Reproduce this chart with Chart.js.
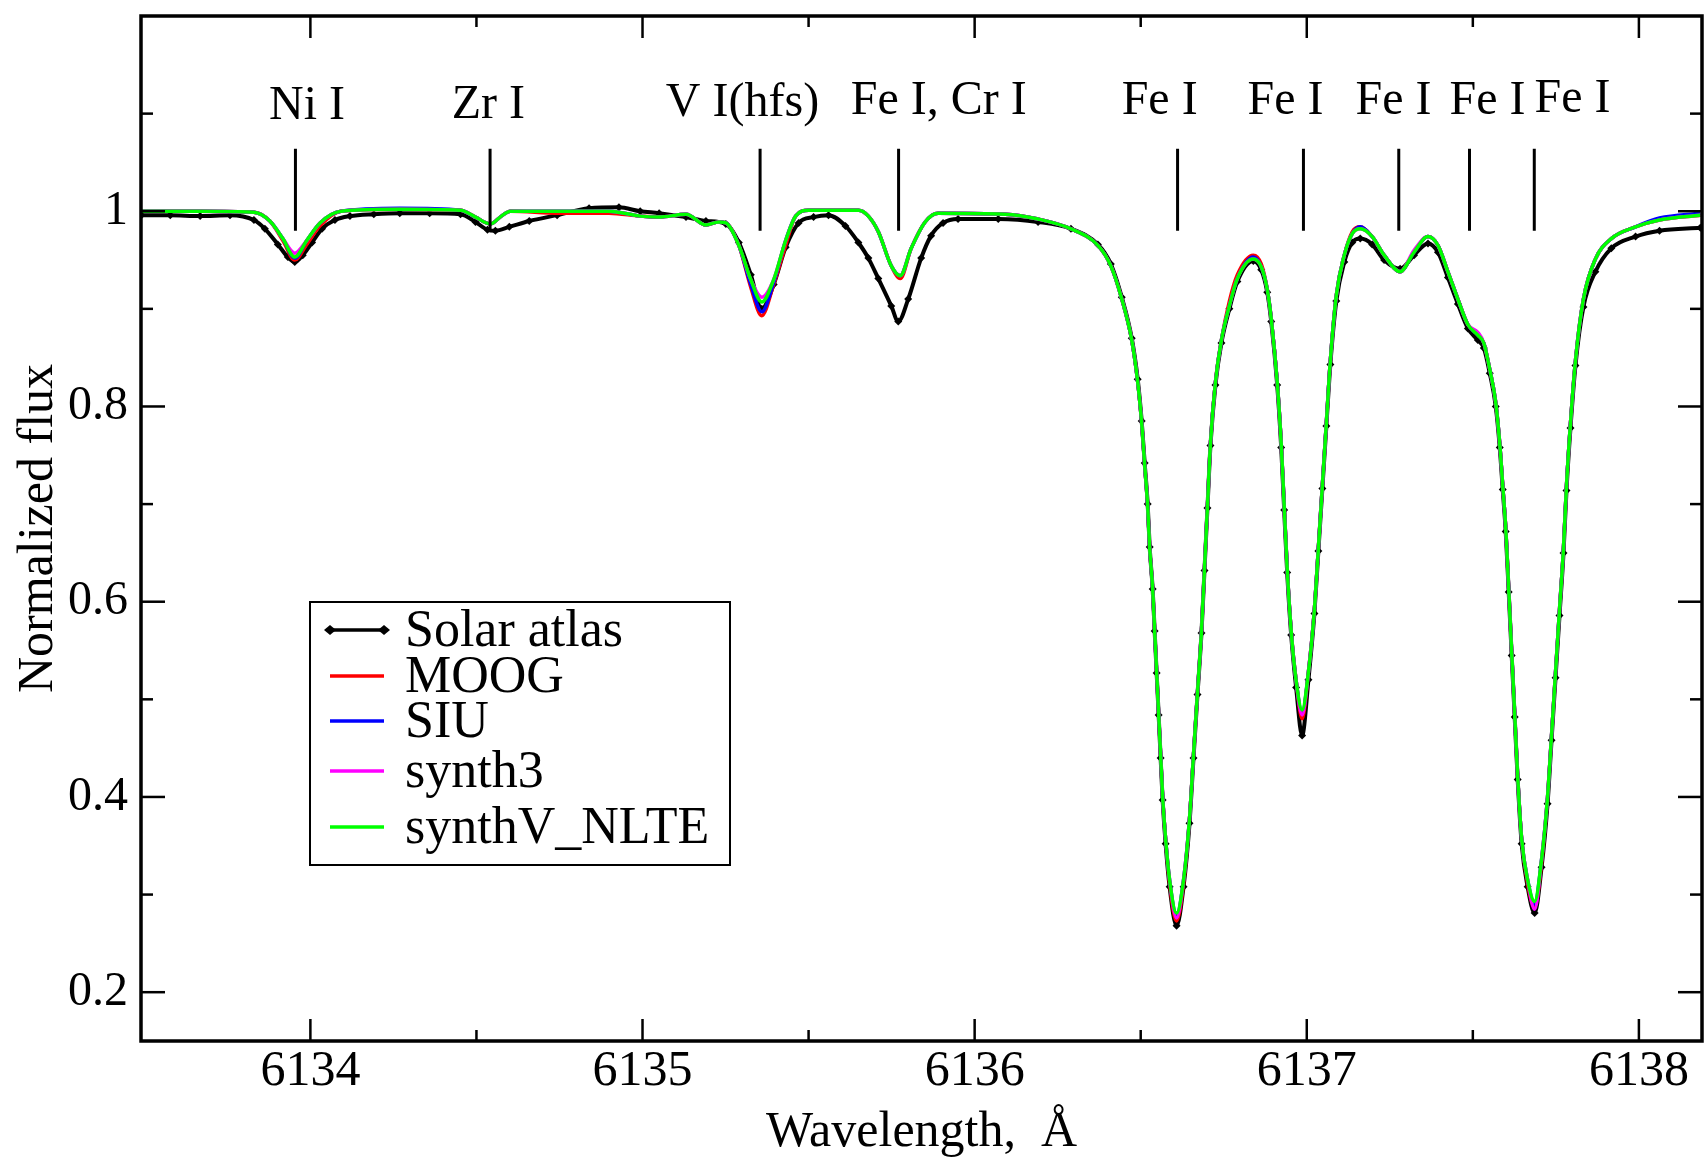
<!DOCTYPE html>
<html><head><meta charset="utf-8">
<script src="https://cdn.jsdelivr.net/npm/chart.js@4.4.0/dist/chart.umd.min.js"></script>
<style>html,body{margin:0;padding:0;background:#fff;}#wrap{width:1706px;height:1158px;position:relative;}</style>
</head><body><div id="wrap"><canvas id="c" width="1706" height="1158"></canvas></div>
<script>
// ---------- data ----------
const solarWave = [
6133.491,6133.578,6133.668,6133.758,6133.830,6133.863,6133.902,6133.932,6133.953,6133.977,
6134.005,6134.035,6134.074,6134.119,6134.191,6134.269,6134.359,6134.452,6134.497,6134.533,
6134.557,6134.599,6134.659,6134.743,6134.839,6134.929,6134.993,6135.050,6135.131,6135.191,
6135.251,6135.290,6135.326,6135.359,6135.395,6135.431,6135.470,6135.515,6135.560,6135.611,
6135.650,6135.680,6135.710,6135.749,6135.770,6135.800,6135.839,6135.869,6135.905,6135.950,
6136.071,6136.191,6136.290,6136.371,6136.410,6136.443,6136.473,6136.491,6136.503,6136.512,
6136.521,6136.527,6136.536,6136.542,6136.548,6136.554,6136.560,6136.566,6136.575,6136.587,
6136.608,6136.629,6136.647,6136.659,6136.671,6136.683,6136.692,6136.701,6136.710,6136.725,
6136.743,6136.767,6136.791,6136.839,6136.863,6136.881,6136.893,6136.911,6136.923,6136.932,
6136.941,6136.953,6136.968,6136.986,6137.005,6137.023,6137.035,6137.047,6137.059,6137.071,
6137.089,6137.113,6137.137,6137.161,6137.197,6137.233,6137.281,6137.323,6137.365,6137.395,
6137.425,6137.455,6137.485,6137.515,6137.533,6137.551,6137.569,6137.581,6137.590,6137.599,
6137.608,6137.617,6137.626,6137.635,6137.647,6137.665,6137.686,6137.707,6137.725,6137.737,
6137.749,6137.761,6137.773,6137.782,6137.794,6137.809,6137.833,6137.869,6137.917,6137.990,
6138.062,6138.185];
const solarFlux = [
0.996,0.996,0.995,0.996,0.991,0.982,0.966,0.953,0.948,0.955,
0.968,0.982,0.991,0.995,0.997,0.998,0.998,0.997,0.989,0.981,
0.980,0.984,0.990,0.996,1.003,1.004,1.000,0.998,0.994,0.990,
0.987,0.968,0.935,0.900,0.925,0.963,0.988,0.994,0.996,0.985,
0.968,0.952,0.931,0.903,0.887,0.910,0.952,0.975,0.988,0.992,
0.992,0.989,0.982,0.966,0.946,0.912,0.870,0.828,0.785,0.742,
0.700,0.656,0.613,0.570,0.527,0.484,0.440,0.397,0.352,0.308,
0.268,0.308,0.373,0.440,0.505,0.568,0.632,0.696,0.760,0.822,
0.865,0.900,0.928,0.949,0.940,0.917,0.887,0.822,0.758,0.694,
0.630,0.566,0.512,0.463,0.520,0.588,0.652,0.716,0.780,0.843,
0.908,0.948,0.968,0.972,0.966,0.950,0.941,0.955,0.967,0.958,
0.932,0.905,0.880,0.868,0.860,0.834,0.800,0.758,0.715,0.672,
0.610,0.545,0.482,0.418,0.352,0.308,0.281,0.328,0.393,0.458,
0.522,0.586,0.650,0.714,0.778,0.842,0.902,0.938,0.962,0.974,
0.980,0.983];

const synthWave = [
6133.491,6133.668,6133.830,6133.878,6133.917,6133.953,6133.989,6134.029,6134.092,6134.269,
6134.452,6134.497,6134.542,6134.575,6134.602,6134.749,6134.899,6134.993,6135.050,6135.131,
6135.191,6135.230,6135.251,6135.290,6135.326,6135.359,6135.395,6135.431,6135.461,6135.500,
6135.650,6135.680,6135.710,6135.749,6135.776,6135.809,6135.851,6135.890,6136.092,6136.191,
6136.290,6136.371,6136.410,6136.443,6136.473,6136.491,6136.503,6136.512,6136.521,6136.527,
6136.536,6136.542,6136.548,6136.554,6136.560,6136.566,6136.575,6136.587,6136.608,6136.629,
6136.647,6136.659,6136.671,6136.683,6136.692,6136.701,6136.710,6136.725,6136.743,6136.767,
6136.791,6136.839,6136.863,6136.881,6136.893,6136.911,6136.923,6136.932,6136.941,6136.953,
6136.968,6136.986,6137.005,6137.023,6137.035,6137.047,6137.059,6137.071,6137.089,6137.113,
6137.137,6137.161,6137.197,6137.233,6137.281,6137.323,6137.365,6137.395,6137.425,6137.455,
6137.485,6137.515,6137.533,6137.551,6137.569,6137.581,6137.590,6137.599,6137.608,6137.617,
6137.626,6137.635,6137.647,6137.665,6137.686,6137.707,6137.725,6137.737,6137.749,6137.761,
6137.773,6137.782,6137.794,6137.809,6137.833,6137.869,6137.917,6137.990,6138.062,6138.185];

const moogFlux = [
1.000,1.000,0.999,0.990,0.970,0.950,0.966,0.985,1.000,1.002,
1.001,0.994,0.987,0.995,1.000,0.998,0.998,0.995,0.994,0.997,
0.986,0.989,0.988,0.965,0.922,0.893,0.925,0.965,0.995,1.001,
1.001,0.995,0.979,0.944,0.931,0.962,0.989,0.998,0.997,0.992,
0.982,0.965,0.944,0.910,0.868,0.825,0.783,0.740,0.698,0.655,
0.613,0.570,0.528,0.485,0.443,0.400,0.357,0.311,0.273,0.311,
0.378,0.443,0.507,0.570,0.634,0.698,0.762,0.825,0.868,0.908,
0.935,0.955,0.946,0.920,0.890,0.825,0.762,0.698,0.634,0.570,
0.519,0.480,0.528,0.592,0.655,0.719,0.783,0.847,0.914,0.955,
0.979,0.984,0.974,0.955,0.938,0.958,0.974,0.965,0.938,0.910,
0.884,0.873,0.865,0.838,0.804,0.762,0.719,0.676,0.613,0.548,
0.485,0.421,0.357,0.311,0.287,0.332,0.400,0.463,0.528,0.592,
0.655,0.719,0.783,0.847,0.910,0.951,0.972,0.984,0.991,0.996];

const siuFlux = [
1.000,1.000,0.999,0.990,0.972,0.952,0.970,0.988,1.000,1.003,
1.001,0.994,0.987,0.995,1.000,1.000,1.000,0.995,0.994,0.997,
0.986,0.989,0.988,0.965,0.925,0.897,0.927,0.970,0.995,1.001,
1.001,0.995,0.979,0.944,0.934,0.962,0.989,0.998,0.997,0.992,
0.982,0.965,0.944,0.910,0.868,0.825,0.783,0.740,0.698,0.655,
0.613,0.570,0.528,0.485,0.443,0.400,0.357,0.315,0.279,0.315,
0.378,0.443,0.507,0.570,0.634,0.698,0.762,0.825,0.868,0.903,
0.931,0.953,0.943,0.920,0.890,0.825,0.762,0.698,0.634,0.570,
0.519,0.486,0.528,0.592,0.655,0.719,0.783,0.847,0.914,0.955,
0.977,0.984,0.974,0.955,0.938,0.958,0.974,0.965,0.938,0.910,
0.884,0.873,0.865,0.838,0.804,0.762,0.719,0.676,0.613,0.548,
0.485,0.421,0.357,0.315,0.290,0.336,0.400,0.463,0.528,0.592,
0.655,0.719,0.783,0.847,0.910,0.951,0.972,0.984,0.993,0.998];

const synth3Flux = [
1.000,1.000,0.999,0.990,0.972,0.957,0.970,0.988,1.000,1.002,
1.001,0.994,0.987,0.995,1.000,1.000,1.000,0.995,0.994,0.997,
0.986,0.989,0.988,0.965,0.930,0.912,0.930,0.970,0.995,1.001,
1.001,0.995,0.979,0.944,0.934,0.962,0.989,0.998,0.997,0.992,
0.982,0.965,0.944,0.910,0.868,0.825,0.783,0.740,0.698,0.655,
0.613,0.570,0.528,0.485,0.443,0.400,0.357,0.315,0.276,0.315,
0.378,0.443,0.507,0.570,0.634,0.698,0.762,0.825,0.868,0.903,
0.931,0.951,0.943,0.920,0.890,0.825,0.762,0.698,0.634,0.570,
0.519,0.484,0.528,0.592,0.655,0.719,0.783,0.847,0.914,0.955,
0.977,0.982,0.974,0.955,0.938,0.960,0.974,0.965,0.938,0.910,
0.884,0.876,0.865,0.838,0.804,0.762,0.719,0.676,0.613,0.548,
0.485,0.421,0.357,0.315,0.285,0.336,0.400,0.463,0.528,0.592,
0.655,0.719,0.783,0.847,0.910,0.951,0.972,0.984,0.991,0.996];

const synthVFlux = [
1.000,1.000,0.999,0.990,0.972,0.953,0.970,0.988,1.000,1.002,
1.001,0.994,0.987,0.995,1.000,1.000,1.000,0.995,0.994,0.997,
0.986,0.989,0.988,0.965,0.930,0.907,0.930,0.970,0.995,1.001,
1.001,0.995,0.979,0.944,0.934,0.962,0.989,0.998,0.997,0.992,
0.982,0.965,0.944,0.910,0.868,0.825,0.783,0.740,0.698,0.655,
0.613,0.570,0.528,0.485,0.443,0.400,0.357,0.315,0.281,0.315,
0.378,0.443,0.507,0.570,0.634,0.698,0.762,0.825,0.868,0.903,
0.931,0.951,0.943,0.920,0.890,0.825,0.762,0.698,0.634,0.570,
0.519,0.489,0.528,0.592,0.655,0.719,0.783,0.847,0.914,0.955,
0.977,0.982,0.974,0.955,0.938,0.958,0.974,0.965,0.938,0.910,
0.884,0.873,0.865,0.838,0.804,0.762,0.719,0.676,0.613,0.548,
0.485,0.421,0.357,0.315,0.293,0.336,0.400,0.463,0.528,0.592,
0.655,0.719,0.783,0.847,0.910,0.951,0.972,0.984,0.991,0.996];

const seriesNames = ['Solar atlas','MOOG','SIU','synth3','synthV_NLTE'];

const xTickValues = [6134, 6135, 6136, 6137, 6138];
const xMinorTicks = [6134.5, 6135.5, 6136.5, 6137.5];
const yTickValues = [0.2, 0.4, 0.6, 0.8, 1.0];
const yMinorTicks = [0.3, 0.5, 0.7, 0.9, 1.1];

const lineIds   = ['Ni I','Zr I','V I(hfs)','Fe I, Cr I','Fe I','Fe I','Fe I','Fe I','Fe I'];
const lineWave  = [6133.955,6134.541,6135.354,6135.771,6136.611,6136.990,6137.277,6137.490,6137.685];
const labelWave = [6133.990,6134.536,6135.301,6135.892,6136.557,6136.936,6137.261,6137.544,6137.800];
const labelFlux = [1.094,1.0955,1.098,1.100,1.100,1.100,1.100,1.100,1.102];
const markTop = 1.064, markBottom = 0.980;

// ---------- chart ----------
const FONT = '"Liberation Serif", "Times New Roman", serif';
const toXY = (w, f) => w.map((v, i) => ({x: v, y: f[i]}));

const decor = {
  id: 'decor',
  afterDatasetsDraw(chart) {
    const {ctx, chartArea: a, scales: {x, y}} = chart;
    ctx.save();
    ctx.strokeStyle = '#000';
    ctx.lineCap = 'butt';
    const seg = (x1, y1, x2, y2) => { ctx.beginPath(); ctx.moveTo(x1, y1); ctx.lineTo(x2, y2); ctx.stroke(); };
    // ticks (inward, mirrored)
    ctx.lineWidth = 2.5;
    xTickValues.forEach(v => { const p = x.getPixelForValue(v); seg(p, a.bottom, p, a.bottom - 22); seg(p, a.top, p, a.top + 22); });
    xMinorTicks.forEach(v => { const p = x.getPixelForValue(v); seg(p, a.bottom, p, a.bottom - 11); seg(p, a.top, p, a.top + 11); });
    yTickValues.forEach(v => { const p = y.getPixelForValue(v); seg(a.left, p, a.left + 24, p); seg(a.right, p, a.right - 24, p); });
    yMinorTicks.forEach(v => { const p = y.getPixelForValue(v); seg(a.left, p, a.left + 12, p); seg(a.right, p, a.right - 12, p); });
    // frame
    ctx.lineWidth = 3.5;
    ctx.strokeRect(a.left, a.top, a.right - a.left, a.bottom - a.top);
    // line identifications
    ctx.lineWidth = 3;
    lineWave.forEach(w => { const p = x.getPixelForValue(w); seg(p, y.getPixelForValue(markTop), p, y.getPixelForValue(markBottom)); });
    ctx.fillStyle = '#000';
    ctx.font = '48px ' + FONT;
    ctx.textAlign = 'center';
    ctx.textBaseline = 'alphabetic';
    lineIds.forEach((t, i) => ctx.fillText(t, x.getPixelForValue(labelWave[i]), y.getPixelForValue(labelFlux[i])));
    // legend
    const bx = 310, by = 602, bw = 420, bh = 263;
    ctx.fillStyle = '#fff';
    ctx.fillRect(bx, by, bw, bh);
    ctx.lineWidth = 2;
    ctx.strokeStyle = '#000';
    ctx.strokeRect(bx, by, bw, bh);
    const rows = [630, 676, 721, 771, 827];
    ctx.font = '52px ' + FONT;
    ctx.textAlign = 'left';
    ctx.textBaseline = 'middle';
    chart.data.datasets.forEach((ds, i) => {
      const ry = rows[i];
      ctx.strokeStyle = ds.borderColor;
      ctx.lineWidth = 3.5;
      seg(330, ry, 384, ry);
      if (i === 0) {
        ctx.fillStyle = '#000';
        [330, 384].forEach(px => { ctx.beginPath(); ctx.moveTo(px - 6, ry); ctx.lineTo(px, ry - 5); ctx.lineTo(px + 6, ry); ctx.lineTo(px, ry + 5); ctx.closePath(); ctx.fill(); });
      }
      ctx.fillStyle = '#000';
      ctx.fillText(ds.label, 405, ry + 2);
    });
    ctx.restore();
  }
};

new Chart(document.getElementById('c'), {
  type: 'line',
  data: {
    datasets: [
      {label: seriesNames[0], data: toXY(solarWave, solarFlux), borderColor: '#000000', backgroundColor: '#000000',
       borderWidth: 4, pointStyle: 'rectRot', pointRadius: 4, pointBorderWidth: 0, order: 4},
      {label: seriesNames[1], data: toXY(synthWave, moogFlux), borderColor: '#ff0000', borderWidth: 3.5, pointRadius: 0, order: 3},
      {label: seriesNames[2], data: toXY(synthWave, siuFlux), borderColor: '#0000ff', borderWidth: 3.5, pointRadius: 0, order: 2},
      {label: seriesNames[3], data: toXY(synthWave, synth3Flux), borderColor: '#ff00ff', borderWidth: 3.5, pointRadius: 0, order: 1},
      {label: seriesNames[4], data: toXY(synthWave, synthVFlux), borderColor: '#00ff00', borderWidth: 3.5, pointRadius: 0, order: 0}
    ]
  },
  options: {
    responsive: false,
    animation: false,
    events: [],
    layout: {padding: {top: 16, right: 2, left: 0, bottom: 0}},
    elements: {line: {cubicInterpolationMode: 'monotone', fill: false}},
    plugins: {legend: {display: false}, tooltip: {enabled: false}},
    scales: {
      x: {
        type: 'linear', min: 6133.49, max: 6138.19,
        afterBuildTicks: s => { s.ticks = xTickValues.map(v => ({value: v})); },
        afterFit: s => { s.height = 117; s.paddingLeft = 0; s.paddingRight = 0; },
        grid: {display: false, drawTicks: false},
        border: {display: false},
        ticks: {color: '#000', font: {family: FONT, size: 50}, padding: 1, maxRotation: 0, callback: v => String(v)},
        title: {display: true, text: 'Wavelength,  Å', color: '#000', font: {family: FONT, size: 50, lineHeight: 1.0}, padding: {top: 0, bottom: 0}}
      },
      y: {
        type: 'linear', min: 0.15, max: 1.2,
        afterBuildTicks: s => { s.ticks = yTickValues.map(v => ({value: v})); },
        afterFit: s => { s.width = 141; s.paddingTop = 0; s.paddingBottom = 0; },
        grid: {display: false, drawTicks: false},
        border: {display: false},
        ticks: {color: '#000', font: {family: FONT, size: 48}, padding: 13, callback: v => (v === 1 ? '1' : v.toFixed(1))},
        title: {display: true, text: 'Normalized flux', color: '#000', font: {family: FONT, size: 50, lineHeight: 1.0}, padding: {top: 14, bottom: 0}}
      }
    }
  },
  plugins: [decor]
});
</script>
</body></html>
